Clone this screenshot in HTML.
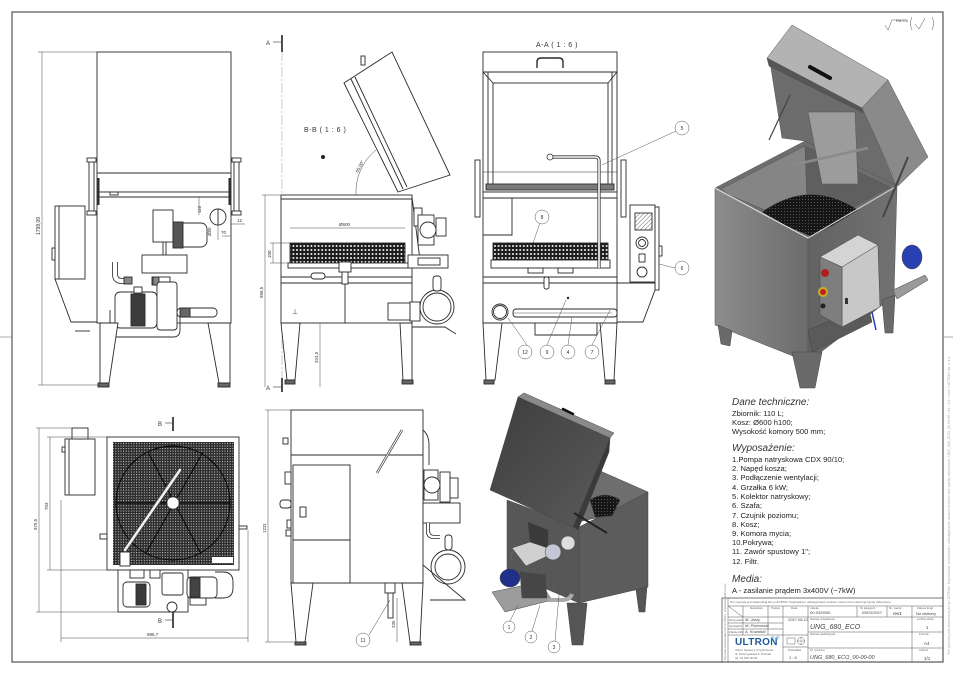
<!DOCTYPE html>
<html><head><meta charset="utf-8">
<style>
html,body{margin:0;padding:0;background:#fff;}
svg{display:block;}
text{font-family:"Liberation Sans",sans-serif;}
</style></head><body>
<svg width="955" height="675" viewBox="0 0 955 675" xmlns="http://www.w3.org/2000/svg">
<defs>
<pattern id="mesh" width="2.6" height="2.6" patternUnits="userSpaceOnUse">
<rect width="2.6" height="2.6" fill="#2c2c2c"/>
<rect x="0.9" y="0.9" width="1" height="1" fill="#d8d8d8"/>
</pattern>
<pattern id="basket" width="3.6" height="4" patternUnits="userSpaceOnUse">
<rect width="3.6" height="4" fill="#1c1c1c"/>
<rect x="1" y="1" width="1.6" height="2" fill="#e4e4e4"/>
</pattern>
<pattern id="hatch" width="3" height="3" patternUnits="userSpaceOnUse" patternTransform="rotate(45)">
<rect width="3" height="3" fill="#fff"/>
<line x1="0" y1="0" x2="0" y2="3" stroke="#444" stroke-width="0.8"/>
</pattern>
<pattern id="bmesh" width="3" height="3" patternUnits="userSpaceOnUse">
<rect width="3" height="3" fill="#161616"/>
<rect x="1" y="1" width="1" height="1" fill="#555"/>
</pattern>
<linearGradient id="gL" x1="0" y1="0" x2="1" y2="0">
<stop offset="0" stop-color="#8c8c8c"/><stop offset="1" stop-color="#6c6c6c"/>
</linearGradient>
<linearGradient id="gR" x1="0" y1="0" x2="1" y2="0">
<stop offset="0" stop-color="#626262"/><stop offset="1" stop-color="#727272"/>
</linearGradient>
<linearGradient id="gLid2" x1="0" y1="0" x2="1" y2="1">
<stop offset="0" stop-color="#3e3e3e"/><stop offset="1" stop-color="#5a5a5a"/>
</linearGradient>
</defs>

<!-- sheet border -->
<rect x="12" y="12" width="931" height="650" fill="none" stroke="#555" stroke-width="1.2"/>
<line x1="0" y1="337" x2="12" y2="337" stroke="#777" stroke-width="0.6"/>
<line x1="943" y1="337" x2="953" y2="337" stroke="#777" stroke-width="0.6"/>
<text transform="translate(950,655) rotate(-90)" font-size="3.6" fill="#aaa">Ten rysunek jest własnością firmy ULTRON. Kopiowanie, powielanie i udostępnianie osobom trzecim bez zgody zabronione. UNG_680_ECO_00-00-00 / A4 / 1:6 / rev1 / ULTRON Sp. z o.o.</text>

<!-- ============ VIEW 1 (front) ============ -->
<g stroke="#2a2a2a" stroke-width="0.9" fill="#fff">
<rect x="97" y="52" width="134" height="140"/>
<line x1="97" y1="173" x2="231" y2="173"/>
<rect x="97" y="192" width="134" height="131"/>
<line x1="97" y1="197" x2="231" y2="197"/>
<rect x="110" y="192" width="8" height="3"/>
<rect x="89" y="160" width="5" height="53"/>
<rect x="234" y="160" width="5" height="53"/>
<rect x="87" y="158" width="9" height="4"/>
<rect x="87" y="211" width="9" height="4"/>
<rect x="232" y="158" width="9" height="4"/>
<rect x="232" y="211" width="9" height="4"/>
<line x1="98.5" y1="178" x2="98.5" y2="205" stroke-width="2"/>
<line x1="229.5" y1="178" x2="229.5" y2="205" stroke-width="2"/>
<rect x="55" y="206" width="30" height="73"/>
<line x1="59" y1="206" x2="59" y2="279"/>
<polyline points="55,279 71,322 97,322" fill="none"/>
<line x1="75" y1="331" x2="90" y2="331"/>
<rect x="52" y="248" width="3" height="12"/>
<rect x="153" y="210" width="20" height="32"/>
<rect x="173" y="223" width="34" height="24" rx="6"/>
<rect x="173" y="222" width="10" height="26" fill="#555"/>
<line x1="163" y1="242" x2="163" y2="255"/>
<line x1="166" y1="242" x2="166" y2="255"/>
<rect x="142" y="255" width="45" height="18"/>
<circle cx="218" cy="217" r="8"/>
<line x1="218" y1="209" x2="218" y2="225"/>
<path d="M115,262 v12 q0,7 7,7 h10" fill="none" stroke-width="6"/>
<path d="M115,262 v12 q0,7 7,7 h10" fill="none" stroke="#fff" stroke-width="4.4"/>
<rect x="124" y="277" width="8" height="7" fill="#888"/>
<rect x="152" y="277" width="18" height="8"/>
<rect x="153" y="277" width="6" height="8" fill="#888"/>
<path d="M110,310 v20 q0,7 7,7 h56 q7,0 7,-7 v-20" fill="none"/>
<rect x="115" y="292" width="42" height="36" rx="5"/>
<rect x="131" y="294" width="14" height="32" fill="#3c3c3c"/>
<rect x="134" y="287" width="8" height="6"/>
<rect x="157" y="282" width="20" height="48" rx="3"/>
<rect x="177" y="308" width="40" height="9" rx="4"/>
<rect x="180" y="308" width="10" height="9" fill="#666"/>
<polygon points="100,323 118,323 109,383 100,383"/>
<polygon points="208,323 230,323 230,383 219,383"/>
<rect x="98" y="383" width="11" height="4" fill="#666"/>
<rect x="218" y="383" width="12" height="4" fill="#666"/>
</g>
<g stroke="#444" stroke-width="0.5" fill="none">
<line x1="42" y1="52" x2="42" y2="385"/>
<line x1="38" y1="52" x2="97" y2="52"/>
<line x1="38" y1="385" x2="100" y2="385"/>
<line x1="199" y1="197" x2="199" y2="215"/>
<line x1="218" y1="225" x2="218" y2="240"/>
<line x1="222" y1="236" x2="231" y2="236"/>
<line x1="231" y1="224" x2="245" y2="224"/>
</g>
<text transform="translate(40,235) rotate(-90)" font-size="5" fill="#333">1798,09</text>
<text transform="translate(201,213) rotate(-90)" font-size="4.5" fill="#333">110</text>
<text transform="translate(211,236) rotate(-90)" font-size="4.5" fill="#333">Ø80</text>
<text x="221" y="234" font-size="4.5" fill="#333">70</text>
<text x="237" y="222" font-size="4.5" fill="#333">12</text>

<!-- ============ VIEW 2 (B-B) ============ -->
<line x1="282" y1="35" x2="282" y2="387" stroke="#999" stroke-width="0.5" stroke-dasharray="10 2 2 2"/>
<g stroke="#222" stroke-width="1.6"><line x1="282" y1="35" x2="282" y2="52"/><line x1="282" y1="378" x2="282" y2="392"/></g>
<g stroke="#333" stroke-width="0.6"><line x1="273" y1="42" x2="282" y2="42"/><line x1="273" y1="387" x2="282" y2="387"/></g>
<text x="266" y="45" font-size="6" fill="#333">A</text>
<text x="266" y="390" font-size="6" fill="#333">A</text>
<text x="304" y="132" font-size="7" fill="#333" letter-spacing="0.5">B-B ( 1 : 6 )</text>
<circle cx="323" cy="157" r="2" fill="#222"/>
<g stroke="#2a2a2a" stroke-width="0.9" fill="#fff">
<polygon points="344,83 392,52 450,175 398,192"/>
<line x1="351" y1="79" x2="403" y2="189"/>
<line x1="355" y1="77" x2="407" y2="187"/>
<rect x="361" y="56" width="4" height="9"/>
<rect x="281" y="195" width="131" height="128"/>
<line x1="281" y1="199" x2="412" y2="199"/>
<rect x="290" y="243" width="115" height="20" fill="url(#basket)"/>
<rect x="288" y="263" width="122" height="5"/>
<line x1="281" y1="277" x2="412" y2="277"/>
<line x1="281" y1="283" x2="412" y2="283"/>
<line x1="345" y1="283" x2="345" y2="323"/>
<rect x="339" y="262" width="12" height="10"/>
<rect x="342" y="272" width="6" height="12"/>
<rect x="311" y="273" width="14" height="6" rx="3"/>
<polygon points="281,323 300,323 295,380 287,380"/>
<polygon points="400,323 412,323 412,380 403,380"/>
<rect x="285" y="380" width="10" height="4" fill="#666"/>
<rect x="402" y="380" width="11" height="4" fill="#666"/>
<line x1="412" y1="197" x2="420" y2="260"/>
<rect x="414" y="208" width="8" height="18"/>
<rect x="418" y="215" width="16" height="30"/>
<circle cx="428" cy="230" r="8"/>
<rect x="436" y="218" width="10" height="18"/>
<rect x="408" y="255" width="40" height="13"/>
<rect x="418" y="258" width="22" height="7"/>
<rect x="388" y="303" width="22" height="17"/>
<rect x="410" y="302" width="10" height="19"/>
<circle cx="437" cy="307" r="17"/>
<circle cx="437" cy="307" r="14"/>
<rect x="433" y="276" width="8" height="15" rx="3"/>
<polyline points="412,327 445,327 456,334" fill="none"/>
</g>
<path d="M356,195 A54,54 0 0 1 376,150" fill="none" stroke="#444" stroke-width="0.5"/>
<text transform="translate(358,173) rotate(-62)" font-size="4.5" fill="#333">65,00°</text>
<g stroke="#444" stroke-width="0.5" fill="none">
<line x1="265" y1="195" x2="265" y2="387"/>
<line x1="262" y1="195" x2="281" y2="195"/>
<line x1="273" y1="243" x2="273" y2="263"/>
<line x1="270" y1="243" x2="290" y2="243"/>
<line x1="270" y1="263" x2="290" y2="263"/>
<line x1="290" y1="228" x2="405" y2="228"/>
<line x1="320" y1="323" x2="320" y2="387"/>
</g>
<text transform="translate(263,298) rotate(-90)" font-size="4.5" fill="#333">996,5</text>
<text transform="translate(271,258) rotate(-90)" font-size="4.5" fill="#333">100</text>
<text transform="translate(318,363) rotate(-90)" font-size="4.5" fill="#333">324,5</text>
<text x="339" y="226" font-size="4.5" fill="#333">Ø600</text>
<text x="292" y="314" font-size="7" fill="#333">⊥</text>

<!-- ============ VIEW 3 (A-A) ============ -->
<text x="536" y="47" font-size="7" fill="#333" letter-spacing="0.5">A-A ( 1 : 6 )</text>
<g stroke="#2a2a2a" stroke-width="0.9" fill="#fff">
<rect x="483" y="52" width="134" height="140"/>
<line x1="483" y1="72" x2="617" y2="72"/>
<rect x="493" y="83" width="115" height="102"/>
<line x1="488" y1="72" x2="488" y2="190"/>
<line x1="612" y1="72" x2="612" y2="190"/>
<line x1="483" y1="72" x2="493" y2="83"/>
<line x1="617" y1="72" x2="608" y2="83"/>
<line x1="483" y1="172" x2="617" y2="172" stroke-width="0.5"/>
<rect x="486" y="184" width="128" height="6" fill="#7a7a7a"/>
<path d="M537,68 v-6 q0,-4 4,-4 h18 q4,0 4,4 v6" fill="none" stroke-width="1.4"/>
<rect x="475" y="160" width="5" height="57"/>
<rect x="621" y="160" width="5" height="57"/>
<rect x="483" y="192" width="134" height="131"/>
<line x1="483" y1="198" x2="617" y2="198"/>
<polyline points="483,235 512,235 512,198" fill="none"/>
<rect x="493" y="243" width="115" height="17" fill="url(#basket)"/>
<rect x="491" y="260" width="119" height="8"/>
<rect x="528" y="268" width="15" height="5"/>
<rect x="558" y="268" width="15" height="5"/>
<line x1="483" y1="277" x2="617" y2="277"/>
<line x1="483" y1="283" x2="617" y2="283"/>
<rect x="544" y="277" width="5" height="12" rx="2"/>
<circle cx="500" cy="312" r="8"/>
<circle cx="500" cy="312" r="6.5"/>
<rect x="513" y="309" width="104" height="8" rx="3"/>
<line x1="513" y1="313" x2="612" y2="313" stroke-width="0.4"/>
<polyline points="535,323 535,335 597,335 597,323" fill="none"/>
<polygon points="483,323 502,323 495,380 486,380"/>
<polygon points="600,323 617,323 614,380 605,380"/>
<rect x="484" y="380" width="10" height="4" fill="#666"/>
<rect x="605" y="380" width="10" height="4" fill="#666"/>
<rect x="630" y="205" width="25" height="77"/>
<rect x="655" y="207" width="4" height="83"/>
<rect x="635" y="213" width="17" height="17" fill="url(#hatch)"/>
<circle cx="642" cy="243" r="6"/>
<circle cx="642" cy="243" r="3.5"/>
<rect x="639" y="254" width="6" height="8"/>
<circle cx="642" cy="272" r="5"/>
<rect x="659" y="246" width="3" height="10"/>
<polyline points="617,283 655,283 655,290 643,322 617,322" fill="none"/>
</g>
<path d="M550,157 h45 q4,0 4,4 v107" fill="none" stroke="#333" stroke-width="3.2"/>
<path d="M550,157 h45 q4,0 4,4 v107" fill="none" stroke="#fff" stroke-width="1.6"/>
<circle cx="550" cy="157" r="3" fill="#fff" stroke="#333" stroke-width="0.8"/>
<circle cx="568" cy="298" r="1.2" fill="#222"/>
<g stroke="#555" stroke-width="0.5" fill="#fff">
<line x1="676" y1="131" x2="602" y2="165"/>
<line x1="675" y1="268" x2="659" y2="264"/>
<line x1="540" y1="223" x2="533" y2="243"/>
<line x1="527" y1="345" x2="508" y2="318"/>
<line x1="547" y1="345" x2="566" y2="300"/>
<line x1="568" y1="345" x2="572" y2="317"/>
<line x1="592" y1="345" x2="610" y2="310"/>
<circle cx="682" cy="128" r="7"/>
<circle cx="682" cy="268" r="7"/>
<circle cx="542" cy="217" r="7"/>
<circle cx="525" cy="352" r="7"/>
<circle cx="547" cy="352" r="7"/>
<circle cx="568" cy="352" r="7"/>
<circle cx="592" cy="352" r="7"/>
</g>
<g font-size="5" fill="#333" text-anchor="middle">
<text x="682" y="130">5</text><text x="682" y="270">6</text><text x="542" y="219">8</text>
<text x="525" y="354">12</text><text x="547" y="354">9</text><text x="568" y="354">4</text><text x="592" y="354">7</text>
</g>

<!-- ============ VIEW 4 (iso top right) ============ -->
<text x="896" y="22" font-size="4" fill="#444">Ra 0.8</text>
<path d="M885,25 l3,5 l4,-10 h14" fill="none" stroke="#555" stroke-width="0.5"/>
<path d="M912,17 q-3,6 0,13 M932,17 q3,6 0,13 M915,24 l4,5 l6,-11" fill="none" stroke="#777" stroke-width="0.6"/>
<g stroke="#555" stroke-width="0.5">
<polygon points="715,188 808,238 808,362 715,325" fill="url(#gL)"/>
<polygon points="808,238 897,186 894,296 808,362" fill="url(#gR)"/>
<polygon points="715,188 805,141 897,186 808,238" fill="#6e6e6e"/>
<polygon points="721,189 805,146 808,228 729,195" fill="#858585"/>
<polygon points="805,146 890,187 812,230 808,228" fill="#5f5f5f"/>
<path d="M762,212 Q810,178 858,210 L832,226 L810,236 L786,226 Z" fill="url(#bmesh)"/>
<polygon points="770,62 862,108 897,186 805,141 782,138" fill="#6c6c6c"/>
<polygon points="808,112 855,112 858,184 822,184" fill="#9c9c9c"/>
<polygon points="767,58 792,25 888,80 862,108" fill="#b3b3b3"/>
<polygon points="862,108 888,80 928,157 898,186" fill="#8a8a8a"/>
<polygon points="767,58 862,108 863,113 769,66" fill="#555"/>
</g>
<path d="M810,67 l20,11" stroke="#111" stroke-width="4" stroke-linecap="round"/>
<line x1="715" y1="188" x2="808" y2="238" stroke="#ddd" stroke-width="1.2"/>
<line x1="808" y1="238" x2="897" y2="186" stroke="#ccc" stroke-width="1.2"/>
<line x1="793" y1="165" x2="868" y2="148" stroke="#8a8a8a" stroke-width="2.5"/>
<line x1="908" y1="157" x2="883" y2="217" stroke="#444" stroke-width="2"/>
<line x1="769" y1="140" x2="790" y2="95" stroke="#444" stroke-width="1.2"/>
<g stroke="#444" stroke-width="0.5">
<polygon points="718,325 732,331 730,346 721,344" fill="#6a6a6a"/>
<polygon points="792,352 822,352 815,388 800,388" fill="#6a6a6a"/>
<polygon points="882,300 895,295 893,333 885,333" fill="#6a6a6a"/>
<polygon points="808,330 868,305 872,322 812,352" fill="#5a5a5a"/>
<polygon points="893,290 925,275 928,280 897,299" fill="#9a9a9a"/>
<ellipse cx="912" cy="257" rx="10" ry="12" fill="#2a3fb0"/>
<polygon points="820,257 858,235 878,245 842,267" fill="#d4d4d4"/>
<polygon points="842,267 878,245 880,307 842,327" fill="#c8c8c8"/>
<polygon points="820,257 842,267 842,327 820,315" fill="#7e7e7e"/>
</g>
<circle cx="825" cy="273" r="4" fill="#b02020"/>
<circle cx="823" cy="292" r="5" fill="#c8b020"/>
<circle cx="823" cy="292" r="3" fill="#c02020"/>
<circle cx="823" cy="306" r="2.5" fill="#222"/>
<rect x="845" y="298" width="3" height="6" fill="#333"/>
<line x1="872" y1="312" x2="876" y2="330" stroke="#2a3fb0" stroke-width="1.5"/>

<!-- ============ TEXT BLOCK ============ -->
<g fill="#222">
<text x="732" y="405" font-size="10" font-style="italic" fill="#333">Dane techniczne:</text>
<text x="732" y="416" font-size="7.6">Zbiornik: 110 L;</text>
<text x="732" y="425" font-size="7.6">Kosz: Ø600 h100;</text>
<text x="732" y="434" font-size="7.6">Wysokość komory 500 mm;</text>
<text x="732" y="451" font-size="10" font-style="italic" fill="#333">Wyposażenie:</text>
<text x="732" y="462" font-size="7.6">1.Pompa natryskowa CDX 90/10;</text>
<text x="732" y="471" font-size="7.6">2. Napęd kosza;</text>
<text x="732" y="480" font-size="7.6">3. Podłączenie wentylacji;</text>
<text x="732" y="490" font-size="7.6">4. Grzałka 6 kW;</text>
<text x="732" y="499" font-size="7.6">5. Kolektor natryskowy;</text>
<text x="732" y="508" font-size="7.6">6. Szafa;</text>
<text x="732" y="518" font-size="7.6">7. Czujnik poziomu;</text>
<text x="732" y="527" font-size="7.6">8. Kosz;</text>
<text x="732" y="536" font-size="7.6">9. Komora mycia;</text>
<text x="732" y="545" font-size="7.6">10.Pokrywa;</text>
<text x="732" y="554" font-size="7.6">11. Zawór spustowy 1";</text>
<text x="732" y="564" font-size="7.6">12. Filtr.</text>
<text x="732" y="582" font-size="10" font-style="italic" fill="#333">Media:</text>
<text x="732" y="593" font-size="7.6">A - zasilanie prądem 3x400V (~7kW)</text>
</g>

<!-- ============ TITLE BLOCK ============ -->
<g stroke="#555" stroke-width="0.5" fill="none">
<rect x="722" y="598" width="221" height="64" stroke-width="0.8"/>
<line x1="728" y1="598" x2="728" y2="662"/>
<line x1="728" y1="606" x2="943" y2="606"/>
<line x1="728" y1="617" x2="808" y2="617"/>
<line x1="728" y1="623" x2="783" y2="623"/>
<line x1="728" y1="629" x2="783" y2="629"/>
<line x1="728" y1="635" x2="808" y2="635"/>
<line x1="783" y1="647" x2="808" y2="647"/>
<line x1="808" y1="617" x2="943" y2="617"/>
<line x1="808" y1="632" x2="943" y2="632"/>
<line x1="808" y1="648" x2="943" y2="648"/>
<line x1="743" y1="606" x2="743" y2="635"/>
<line x1="768" y1="606" x2="768" y2="635"/>
<line x1="783" y1="606" x2="783" y2="662"/>
<line x1="808" y1="606" x2="808" y2="662"/>
<line x1="857" y1="606" x2="857" y2="617"/>
<line x1="887" y1="606" x2="887" y2="617"/>
<line x1="912" y1="606" x2="912" y2="662"/>
<line x1="728" y1="606" x2="743" y2="617"/>
</g>
<g font-size="3" fill="#666">
<text x="730" y="603">Ten rysunek jest własnością firmy ULTRON. Kopiowanie i udostępnianie osobom trzecim bez pisemnej zgody zabronione.</text>
<text x="750" y="609">Nazwisko</text><text x="771" y="609">Podpis</text><text x="791" y="609">Data</text>
<text x="810" y="609">Indeks</text><text x="860" y="609">Nr kategorii</text><text x="889" y="609">Nr. wersji</text><text x="917" y="609">Zakres Engl</text>
<text x="729" y="621">Narysował</text><text x="729" y="627">Sprawdził</text><text x="729" y="633">Zatwierdził</text>
<text x="810" y="620">Nazwa urządzenia</text><text x="810" y="635">Nazwa podzespołu</text><text x="810" y="651">Nr rysunku</text>
<text x="917" y="620">Liczba sztuk</text><text x="919" y="635">Format</text><text x="919" y="651">Arkusz</text>
<text x="788" y="651">Podziałka</text>
<text x="735" y="651">Ultron Systemy Czyszczenia</text><text x="735" y="655">ul. Przemysłowa 4, Poznań</text><text x="735" y="659">tel. 61 000 00 00</text>
</g>
<g font-size="4" fill="#444" font-style="italic">
<text x="745" y="621">M. Jarzy</text><text x="745" y="627">M. Piotrowski</text><text x="745" y="633">A. Kowalski</text>
<text x="788" y="621">2017.06.12</text>
<text x="810" y="614">00-03/0000</text><text x="862" y="614">05/03/2017</text>
<text x="789" y="659">1 : 6</text>
<text x="810" y="659" font-size="5.5">UNG_680_ECO_00-00-00</text>
</g>
<text x="810" y="629" font-size="7" fill="#444" font-style="italic">UNG_680_ECO</text>
<text x="893" y="615" font-size="4.5" fill="#333">rev1</text>
<text x="916" y="615" font-size="4" fill="#444">No delivery</text>
<text x="926" y="629" font-size="4.5" fill="#444">1</text>
<text x="924" y="645" font-size="4.5" fill="#444">A4</text>
<text x="924" y="660" font-size="4.5" fill="#444">1/1</text>
<text x="735" y="645" font-size="10" font-weight="bold" fill="#1e5a9a" letter-spacing="0.3">ULTRON</text>
<text x="770" y="640" font-size="6" fill="#6aa6d8">✳✳</text>
<circle cx="801" cy="641" r="3.5" fill="none" stroke="#666" stroke-width="0.5"/>
<line x1="797" y1="641" x2="805" y2="641" stroke="#666" stroke-width="0.4"/>
<line x1="801" y1="637" x2="801" y2="645" stroke="#666" stroke-width="0.4"/>
<rect x="787" y="638" width="8" height="6" fill="none" stroke="#666" stroke-width="0.5"/>
<text transform="translate(726,660) rotate(-90)" font-size="2.8" fill="#777">Rysunek stanowi własność ULTRON - kopiowanie zabronione</text>

<!-- ============ VIEW 5 (top view) ============ -->
<g stroke="#2a2a2a" stroke-width="0.9" fill="#fff">
<rect x="107" y="437" width="132" height="133"/>
<rect x="113" y="442" width="121" height="123" fill="url(#mesh)" stroke="none"/>
<circle cx="173" cy="503" r="57" fill="none" stroke="#000"/>
<line x1="116" y1="503" x2="230" y2="503" stroke="#000"/>
<line x1="148" y1="452" x2="201" y2="554" stroke="#000"/>
<line x1="203" y1="452" x2="146" y2="553" stroke="#000"/>
<rect x="212" y="557" width="21" height="6" stroke="none"/>
<rect x="65" y="439" width="30" height="56"/>
<line x1="69" y1="439" x2="69" y2="495"/>
<rect x="72" y="428" width="16" height="11"/>
<rect x="62" y="447" width="3" height="5"/>
<rect x="100" y="534" width="7" height="5"/>
<rect x="239" y="526" width="8" height="3"/>
<rect x="120" y="552" width="10" height="14"/>
<rect x="118" y="570" width="70" height="42"/>
<rect x="123" y="582" width="27" height="25" rx="4"/>
<rect x="136" y="584" width="10" height="21" fill="#3a3a3a"/>
<rect x="162" y="573" width="21" height="22" rx="2"/>
<rect x="187" y="577" width="30" height="21" rx="4"/>
<rect x="190" y="578" width="10" height="19" fill="#444"/>
<rect x="190" y="598" width="16" height="7"/>
<path d="M215,572 h8 q10,0 10,10 v6 q0,10 -10,10 h-8" fill="none"/>
<rect x="130" y="570" width="14" height="8"/>
<rect x="150" y="570" width="10" height="8"/>
<circle cx="172" cy="607" r="5"/>
</g>
<line x1="125" y1="550" x2="180" y2="470" stroke="#444" stroke-width="4.5" stroke-linecap="round"/>
<line x1="125" y1="550" x2="180" y2="470" stroke="#f2f2f2" stroke-width="2.5" stroke-linecap="round"/>
<circle cx="173" cy="503" r="6" fill="#fff" stroke="#333" stroke-width="0.5"/>
<g stroke="#222" stroke-width="1.6"><line x1="173" y1="417" x2="173" y2="431"/><line x1="173" y1="612" x2="173" y2="628"/></g>
<g stroke="#333" stroke-width="0.6"><line x1="165" y1="423" x2="173" y2="423"/><line x1="165" y1="620" x2="173" y2="620"/></g>
<text x="158" y="426" font-size="6" fill="#333">B</text>
<text x="158" y="623" font-size="6" fill="#333">B</text>
<g stroke="#444" stroke-width="0.5" fill="none">
<line x1="39" y1="428" x2="39" y2="612"/>
<line x1="36" y1="428" x2="80" y2="428"/>
<line x1="36" y1="612" x2="118" y2="612"/>
<line x1="50" y1="437" x2="50" y2="570"/>
<line x1="47" y1="437" x2="107" y2="437"/>
<line x1="47" y1="570" x2="107" y2="570"/>
<line x1="61" y1="638" x2="248" y2="638"/>
<line x1="61" y1="500" x2="61" y2="642"/>
<line x1="248" y1="530" x2="248" y2="642"/>
</g>
<text transform="translate(37,530) rotate(-90)" font-size="4.5" fill="#333">975,5</text>
<text transform="translate(48,510) rotate(-90)" font-size="4.5" fill="#333">703</text>
<text x="147" y="636" font-size="4.5" fill="#333">985,7</text>

<!-- ============ VIEW 6 (side) ============ -->
<g stroke="#2a2a2a" stroke-width="0.9" fill="#fff">
<rect x="291" y="410" width="132" height="173"/>
<line x1="291" y1="455" x2="423" y2="455"/>
<rect x="293" y="465" width="57" height="118"/>
<line x1="293" y1="540" x2="350" y2="540"/>
<rect x="300" y="507" width="6" height="10"/>
<rect x="283" y="438" width="5" height="6"/>
<rect x="285" y="472" width="6" height="12"/>
<rect x="280" y="500" width="11" height="8" rx="3"/>
<rect x="287" y="520" width="4" height="8"/>
<rect x="286" y="530" width="5" height="6"/>
<polygon points="291,583 313,583 305,642 296,642"/>
<polygon points="402,583 423,583 420,642 410,642"/>
<rect x="295" y="642" width="11" height="3" fill="#666"/>
<rect x="410" y="642" width="11" height="3" fill="#666"/>
<rect x="385" y="583" width="10" height="10"/>
<rect x="388" y="593" width="5" height="25"/>
<path d="M423,430 q6,5 6,15 v20" fill="none"/>
<rect x="424" y="470" width="14" height="30"/>
<circle cx="432" cy="485" r="8"/>
<rect x="440" y="472" width="10" height="30"/>
<rect x="450" y="478" width="8" height="20"/>
<rect x="423" y="503" width="37" height="20"/>
<path d="M428,523 v8 q0,6 6,6 h6" fill="none" stroke-width="4"/>
<path d="M428,523 v8 q0,6 6,6 h6" fill="none" stroke="#fff" stroke-width="2.4"/>
<rect x="445" y="535" width="7" height="15" rx="3"/>
<circle cx="448" cy="567" r="17"/>
<circle cx="448" cy="567" r="13"/>
<polyline points="423,565 465,600 430,600" fill="none"/>
</g>
<line x1="402" y1="430" x2="377" y2="473" stroke="#444" stroke-width="2.5"/>
<line x1="402" y1="430" x2="377" y2="473" stroke="#fff" stroke-width="1"/>
<g stroke="#444" stroke-width="0.5" fill="none">
<line x1="268" y1="410" x2="268" y2="642"/>
<line x1="265" y1="410" x2="291" y2="410"/>
<line x1="265" y1="642" x2="296" y2="642"/>
<line x1="397" y1="598" x2="397" y2="642"/>
<line x1="369" y1="635" x2="390" y2="600"/>
</g>
<text transform="translate(266,533) rotate(-90)" font-size="4.5" fill="#333">1231</text>
<text transform="translate(395,628) rotate(-90)" font-size="4.5" fill="#333">235</text>
<circle cx="363" cy="640" r="7" fill="#fff" stroke="#555" stroke-width="0.5"/>
<text x="363" y="642" font-size="5" fill="#333" text-anchor="middle">11</text>

<!-- ============ VIEW 7 (iso bottom) ============ -->
<g stroke="#444" stroke-width="0.5">
<polygon points="507,500 579,527 579,603 507,572" fill="#575757"/>
<polygon points="579,527 648,492 648,587 579,603" fill="#5c5c5c"/>
<polygon points="598,470 648,492 600,517 578,522" fill="#6e6e6e"/>
<path d="M590,500 Q605,490 620,500 L612,516 L595,517 Z" fill="url(#bmesh)"/>
<polygon points="567,603 587,603 583,645 572,645" fill="#555"/>
<polygon points="636,590 647,587 645,612 639,612" fill="#555"/>
<polygon points="518,397 610,438 573,527 490,490" fill="url(#gLid2)"/>
<polygon points="610,438 609,452 578,530 573,527" fill="#3a3a3a"/>
<polygon points="518,397 524,393 614,433 610,438" fill="#8a8a8a"/>
<polygon points="512,548 542,538 556,552 526,566" fill="#d0d0d0"/>
<polygon points="528,522 548,530 548,548 530,542" fill="#3a3a3a"/>
<circle cx="553" cy="552" r="8" fill="#c4c8d4"/>
<circle cx="568" cy="543" r="7" fill="#dedede"/>
<polygon points="492,592 540,582 552,600 505,612" fill="#9c9c9c"/>
<ellipse cx="510" cy="578" rx="10" ry="9" fill="#1f2f8a"/>
<polygon points="520,572 545,575 547,598 522,598" fill="#464646"/>
<path d="M548,600 h14 q8,0 10,-6" fill="none" stroke="#aaa" stroke-width="4"/>
</g>
<path d="M563,409 l10,5" stroke="#111" stroke-width="2.5" stroke-linecap="round"/>
<line x1="574" y1="513" x2="607" y2="533" stroke="#222" stroke-width="2"/>
<path d="M512,560 q-3,-6 3,-9" fill="none" stroke="#666" stroke-width="1"/>
<g stroke="#555" stroke-width="0.5" fill="#fff">
<line x1="510" y1="621" x2="518" y2="605"/>
<line x1="532" y1="631" x2="540" y2="605"/>
<line x1="555" y1="641" x2="563" y2="550"/>
<circle cx="509" cy="627" r="6"/>
<circle cx="531" cy="637" r="6"/>
<circle cx="554" cy="647" r="6"/>
</g>
<g font-size="5" fill="#333" text-anchor="middle">
<text x="509" y="629">1</text><text x="531" y="639">2</text><text x="554" y="649">3</text>
</g>
</svg>
</body></html>
